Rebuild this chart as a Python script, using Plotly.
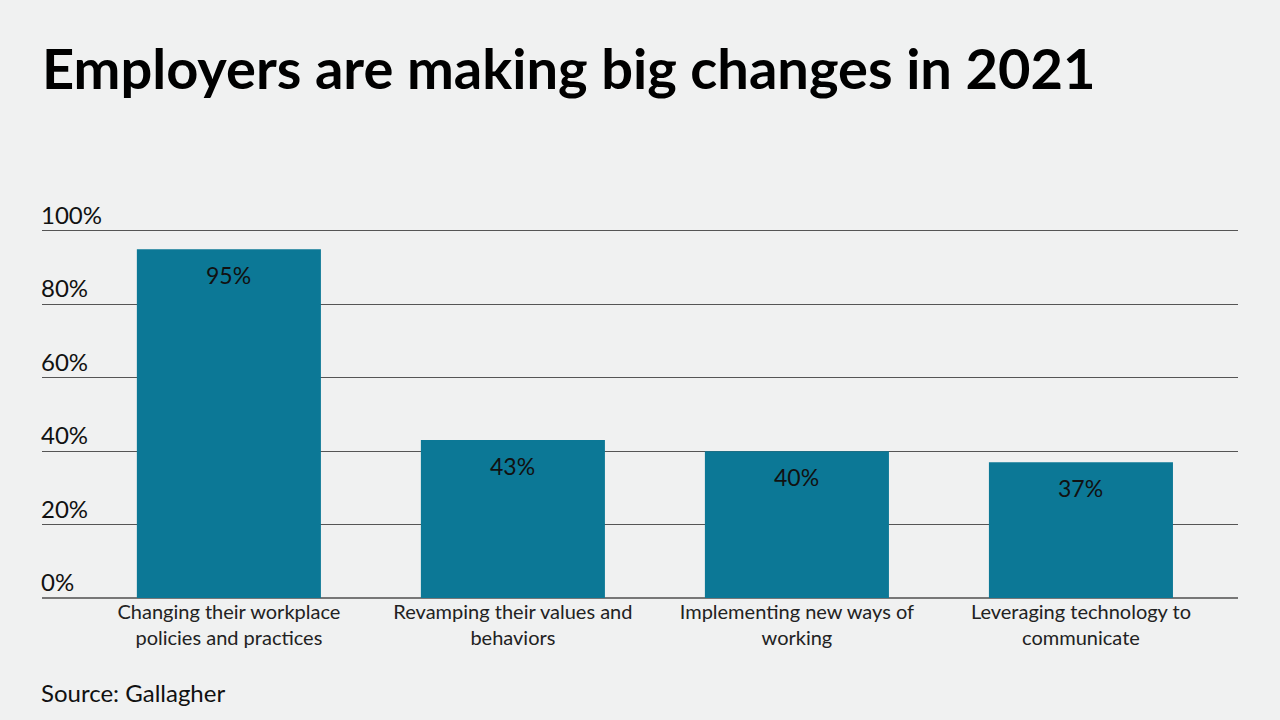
import plotly.graph_objects as go

categories = [
    "Changing their workplace<br>policies and practices",
    "Revamping their values and<br>behaviors",
    "Implementing new ways of<br>working",
    "Leveraging technology to<br>communicate",
]
values = [95, 43, 40, 37]
tick_vals = [0, 20, 40, 60, 80, 100]
tick_text = ["0%", "20%", "40%", "60%", "80%", "100%"]

BAR_COLOR = "#0c7896"
BG = "#f0f1f1"
FONT = "Lato"

x_idx = list(range(len(categories)))

fig = go.Figure()
fig.add_trace(go.Bar(
    x=x_idx, y=values, width=0.648,
    marker=dict(color=BAR_COLOR, line=dict(width=0)),
    hoverinfo="skip",
))

annotations = []
for i, v in zip(x_idx, values):
    annotations.append(dict(
        x=i, y=v, xref="x", yref="y", text=f"{v}%", showarrow=False,
        yanchor="middle", yshift=-26,
        font=dict(family=FONT, size=23, color="#111111"),
    ))
for tv, tt in zip(tick_vals, tick_text):
    annotations.append(dict(
        x=0, y=tv, xref="paper", yref="y", text=tt, showarrow=False,
        xanchor="left", yanchor="bottom", yshift=0, xshift=-3,
        font=dict(family=FONT, size=24, color="#111111"),
    ))
annotations.append(dict(
    x=0, y=0, xref="paper", yref="paper", text="Source: Gallagher",
    showarrow=False, xanchor="left", yanchor="middle", yshift=-94, xshift=-3,
    font=dict(family=FONT, size=24, color="#111111"),
))

fig.update_layout(
    width=1280, height=720,
    paper_bgcolor=BG, plot_bgcolor=BG,
    margin=dict(l=42, r=42, t=229, b=122),
    showlegend=False,
    title=dict(
        text="<b>Employers are making big changes in 2021</b>",
        x=42 / 1280, xanchor="left", y=1 - 69 / 720, yanchor="middle",
        font=dict(family=FONT, size=56, color="#000000"),
    ),
    xaxis=dict(
        range=[-0.658, 3.553], tickvals=x_idx, ticktext=categories,
        showgrid=False, zeroline=False, showline=False, ticks="",
        tickfont=dict(family=FONT, size=20, color="#222222"),
    ),
    yaxis=dict(
        range=[0, 100.5], tickvals=tick_vals, showticklabels=False,
        showgrid=True, gridcolor="#555555", gridwidth=1,
        zeroline=True, zerolinecolor="#777777", zerolinewidth=1.5,
        fixedrange=True,
    ),
    annotations=annotations,
)

fig.write_html(
    "out.html",
    config={"displayModeBar": False},
    post_script="document.body.style.margin='0';document.body.style.background='#f0f1f1';",
)
